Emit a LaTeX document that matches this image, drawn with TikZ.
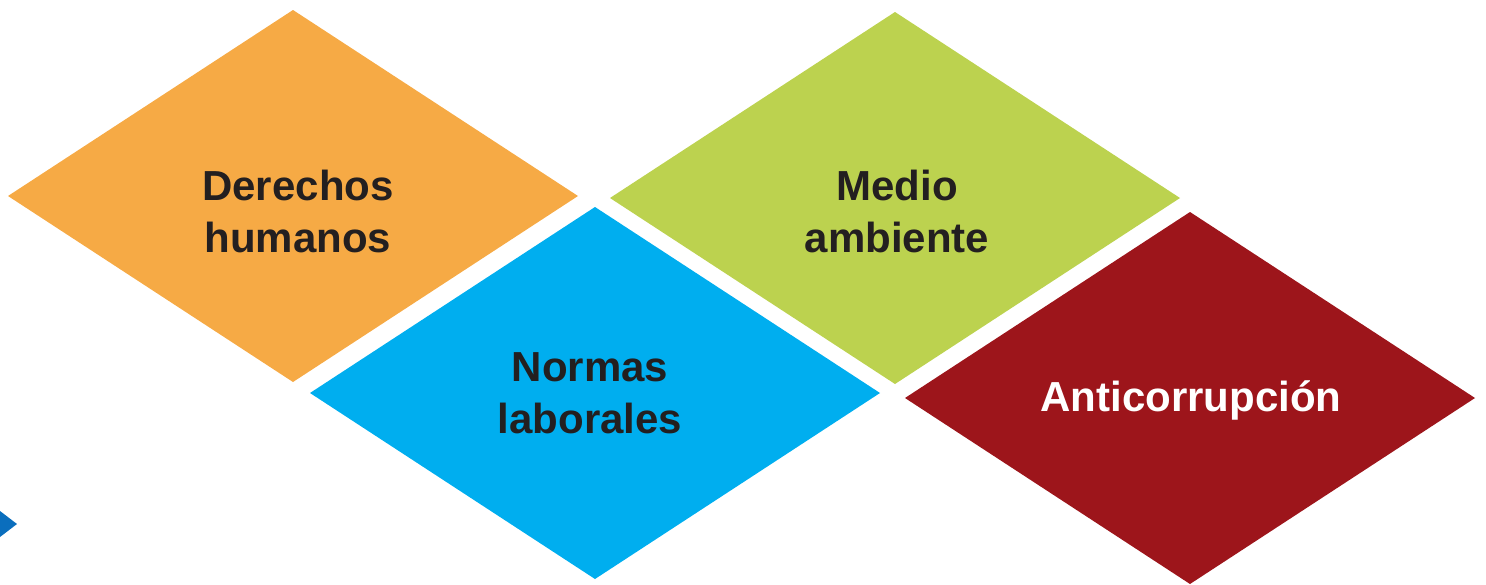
\documentclass[tikz,border=0pt]{standalone}
\usepackage{fontspec}
\setmainfont{Liberation Sans}
\usepackage{xcolor}
\usepackage{tikz}
\usetikzlibrary{shapes.geometric,positioning}
\definecolor{naranja}{HTML}{F6AA45}
\definecolor{celeste}{HTML}{00AEEF}
\definecolor{verde}{HTML}{BCD24F}
\definecolor{granate}{HTML}{9D151B}
\definecolor{texto}{HTML}{231F20}
\definecolor{flecha}{HTML}{0A6EBD}
\tikzset {
	rombo/.style={diamond, draw=none, inner sep=0pt, outer sep=0pt, shape aspect=1.53,
					minimum width=570pt, minimum height=372pt},
	etiqueta/.style={align=center, text=texto, font=\fontsize{42}{52}\selectfont\bfseries},
	blanca/.style={etiqueta, text=white}
}

\begin{document}
\begin{tikzpicture}[x=1pt, y=-1pt]
					\useasboundingbox (0,0) rectangle (1486,584);
					\node [rombo, fill=naranja] (derechos) at (293,196) {};
					\node [rombo, fill=celeste] (normas) at (595,393) {};
					\node [rombo, fill=verde] (medio) at (895,198) {};
					\node [rombo, fill=granate] (anti) at (1190,398) {};
					\node [etiqueta] (derechosTxt) at ([xshift=5pt, yshift=-15pt]derechos.center) {Derechos\\humanos};
					\node [etiqueta] (normasTxt) at ([xshift=-5pt]normas.center) {Normas\\laborales};
					\node [etiqueta] (medioTxt) at ([xshift=2pt, yshift=-13pt]medio.center) {Medio\\ambiente};
					\node [blanca] (antiTxt) at ([xshift=1pt, yshift=-2pt]anti.center) {Anticorrupción};
					% flecha del borde
					\fill [flecha] (0,511) -- (17,524) -- (0,537) -- cycle;
					\end{tikzpicture}
\end{document}
